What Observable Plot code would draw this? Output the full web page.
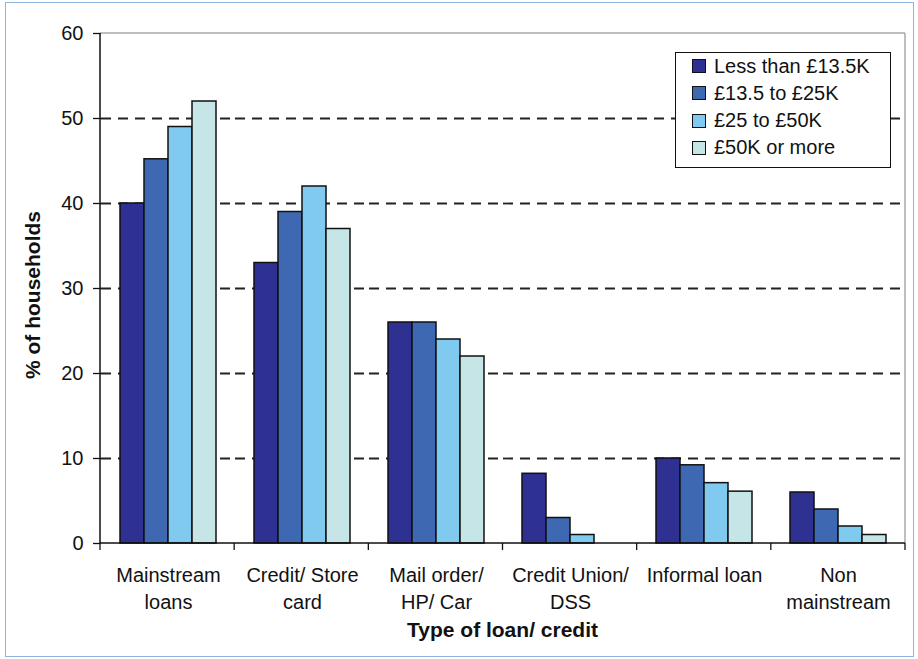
<!DOCTYPE html>
<html>
<head>
<meta charset="utf-8">
<script src="https://cdn.jsdelivr.net/npm/d3@7"></script>
<script src="https://cdn.jsdelivr.net/npm/@observablehq/plot@0.6"></script>
<style>
  body { margin: 0; background: #fff; }
  #wrap { position: relative; width: 918px; height: 659px; font-family: "Liberation Sans", Arial, sans-serif; overflow: hidden; }
  #wrap svg { position: absolute; left: 0; top: 0; }
  #border { position: absolute; left: 5px; top: 2px; width: 909px; height: 655px; border: 1.5px solid #8fb4e0; box-sizing: border-box; pointer-events: none; }
  #legend { position: absolute; left: 675px; top: 52px; width: 216px; height: 116px; border: 1.5px solid #111; background: #fff; box-sizing: border-box; padding-top: 0px; }
  .lrow { position: absolute; left: 16px; height: 26px; display: flex; align-items: center; font-size: 20px; color: #111; white-space: nowrap; }
  .lsw { width: 12px; height: 12px; border: 1.3px solid #111; margin-right: 8px; flex: none; }
</style>
</head>
<body>
<div id="wrap"><div id="border"></div></div>
<script>
// ---- data ----
const categories = ["Mainstream loans", "Credit/ Store card", "Mail order/ HP/ Car", "Credit Union/ DSS", "Informal loan", "Non mainstream"];
const categoryLabels = ["Mainstream\nloans", "Credit/ Store\ncard", "Mail order/\nHP/ Car", "Credit Union/\nDSS", "Informal loan", "Non\nmainstream"];
const series = ["Less than £13.5K", "£13.5 to £25K", "£25 to £50K", "£50K or more"];
const lessThan13_5K = [40, 33, 26, 8.2, 10, 6];
const from13_5To25K = [45.2, 39, 26, 3, 9.2, 4];
const from25To50K   = [49, 42, 24, 1, 7.1, 2];
const over50K       = [52, 37, 22, 0, 6.1, 1];
const yTicks = [0, 10, 20, 30, 40, 50, 60];
const gridValues = [10, 20, 30, 40, 50];
const colors = ["#2e3092", "#3e68b1", "#80c9ef", "#c6e5e6"];
const yTitle = "% of households";
const xTitle = "Type of loan/ credit";

const seriesValues = [lessThan13_5K, from13_5To25K, from25To50K, over50K];
const data = [];
categories.forEach((c, i) => series.forEach((s, j) => {
  const v = seriesValues[j][i];
  if (v > 0) data.push({ category: c, series: s, value: v });
}));

const font = "Liberation Sans, Arial, sans-serif";

const plot = Plot.plot({
  width: 918,
  height: 659,
  marginLeft: 100,
  marginRight: 13,
  marginTop: 33,
  marginBottom: 116,
  style: { fontFamily: font, fontSize: "20px", color: "#111", background: "transparent", overflow: "visible" },
  fx: { domain: categories, padding: 0, label: null },
  x: { domain: series, paddingInner: 0, paddingOuter: 0.7, axis: null },
  y: { domain: [0, 60], label: null },
  color: { domain: series, range: colors },
  marks: [
    Plot.ruleY(gridValues, { stroke: "#222", strokeWidth: 1.8, strokeDasharray: "10,7" }),
    Plot.barY(data, { fx: "category", x: "series", y: "value", fill: "series", stroke: "#111", strokeWidth: 1.5 }),
    Plot.axisY({ ticks: yTicks, tickSize: 8, tickPadding: 10, fontSize: 20, label: null, stroke: "#111", strokeWidth: 1.3, fill: "#111" }),
    Plot.axisFx({ anchor: "bottom", tickSize: 0, tickPadding: 19, fontSize: 20, lineHeight: 1.35, label: null, fill: "#111",
      tickFormat: d => categoryLabels[categories.indexOf(d)] })
  ]
});

document.getElementById("wrap").appendChild(plot);

// frame lines, group boundary ticks, and axis titles derived from the plot's scales
const svg = d3.select(plot);
const ys = plot.scale("y"), fxs = plot.scale("fx");
const yBottom = ys.apply(0), yTop = ys.apply(60);
const [xL, xR] = fxs.range;
const g = svg.append("g");
g.append("line").attr("x1", xL).attr("x2", xR).attr("y1", yTop).attr("y2", yTop).attr("stroke", "#a8a8a8").attr("stroke-width", 1.5);
g.append("line").attr("x1", xR).attr("x2", xR).attr("y1", yTop).attr("y2", yBottom).attr("stroke", "#a8a8a8").attr("stroke-width", 1.5);
g.append("line").attr("x1", xL).attr("x2", xL).attr("y1", yTop).attr("y2", yBottom).attr("stroke", "#111").attr("stroke-width", 1.5);
g.append("line").attr("x1", xL).attr("x2", xR).attr("y1", yBottom).attr("y2", yBottom).attr("stroke", "#111").attr("stroke-width", 1.5);
const step = (xR - xL) / categories.length;
d3.range(categories.length + 1).forEach(i => {
  g.append("line").attr("x1", xL + i * step).attr("x2", xL + i * step).attr("y1", yBottom).attr("y2", yBottom + 7).attr("stroke", "#111").attr("stroke-width", 1.3);
});
svg.append("text").text(yTitle)
  .attr("transform", `translate(40,${(yTop + yBottom) / 2 + 7}) rotate(-90)`)
  .attr("text-anchor", "middle").attr("font-weight", "bold").attr("font-size", 21).attr("font-family", font).attr("fill", "#111");
svg.append("text").text(xTitle)
  .attr("x", (xL + xR) / 2).attr("y", 637)
  .attr("text-anchor", "middle").attr("font-weight", "bold").attr("font-size", 21).attr("font-family", font).attr("fill", "#111");

// legend
const legend = d3.select("#wrap").append("div").attr("id", "legend");
series.forEach((s, i) => {
  const row = legend.append("div").attr("class", "lrow").style("top", (i * 27.3) + "px");
  row.append("div").attr("class", "lsw").style("background", colors[i]);
  row.append("span").text(s);
});
</script>
</body>
</html>
